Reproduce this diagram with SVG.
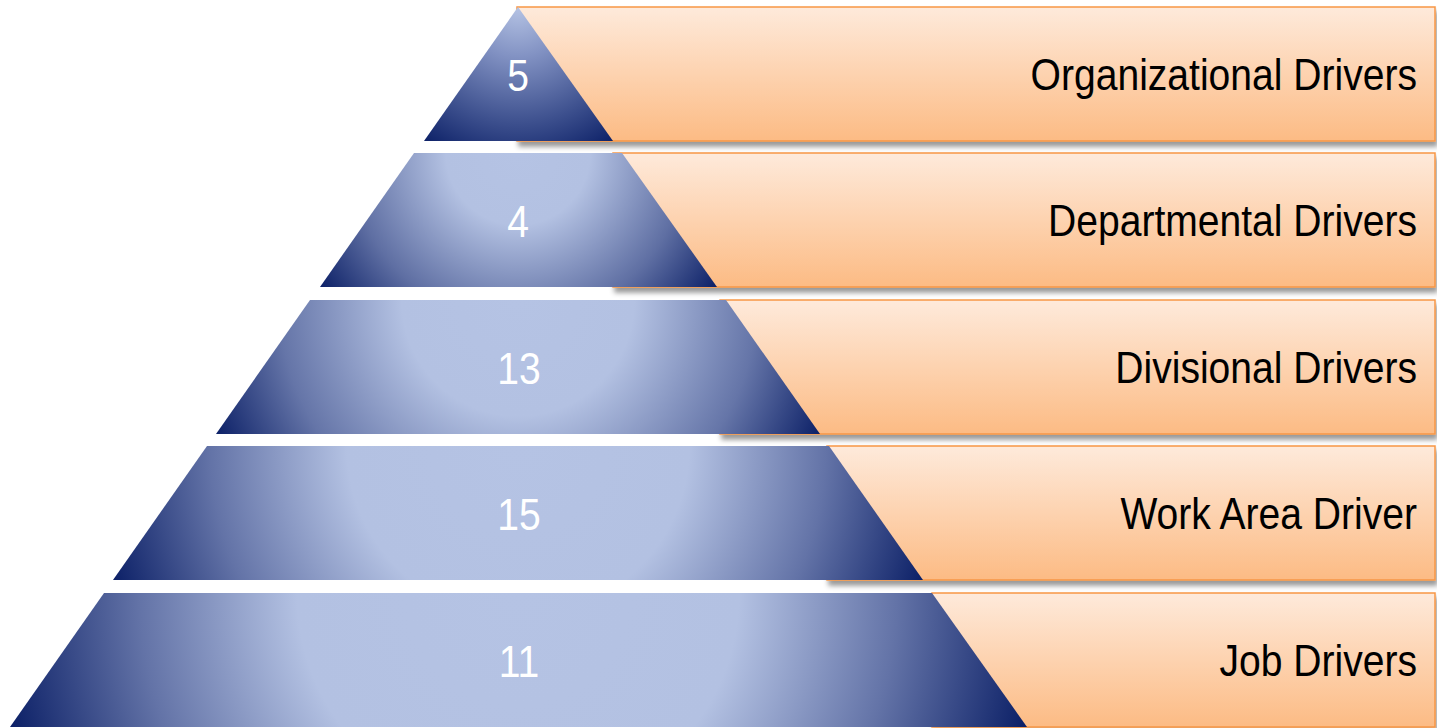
<svg xmlns="http://www.w3.org/2000/svg" width="1437" height="728" viewBox="0 0 1437 728">
<style>
.bar{fill:url(#orange);stroke:#f79646;stroke-width:1.5;filter:url(#shadow)}
.lbl{font-family:"Liberation Sans",Arial,sans-serif;font-size:44px;fill:#000;text-anchor:end}
.num{font-family:"Liberation Sans",Arial,sans-serif;font-size:44px;fill:#fff;text-anchor:middle}
</style>
<defs>
<linearGradient id="orange" x1="0" y1="0" x2="0" y2="1">
<stop offset="0" stop-color="#feeadb"/>
<stop offset="1" stop-color="#fcbb84"/>
</linearGradient>
<filter id="shadow" x="-5%" y="-20%" width="110%" height="150%">
<feDropShadow dx="2" dy="5" stdDeviation="2.5" flood-color="#000" flood-opacity="0.4"/>
</filter>
<radialGradient id="g1" gradientUnits="userSpaceOnUse" cx="518" cy="7" r="166">
<stop offset="0" stop-color="#b5c3e4"/><stop offset="0.3" stop-color="#8292c3"/><stop offset="0.7" stop-color="#3d508e"/><stop offset="1" stop-color="#0b1f66"/>
</radialGradient>
<radialGradient id="g2" gradientUnits="userSpaceOnUse" cx="518" cy="153" r="240">
<stop offset="0" stop-color="#b5c3e4"/><stop offset="0.3" stop-color="#b3c1e2"/><stop offset="0.7" stop-color="#5f6fa3"/><stop offset="1" stop-color="#0b1f66"/>
</radialGradient>
<radialGradient id="g3" gradientUnits="userSpaceOnUse" cx="518" cy="300" r="332">
<stop offset="0" stop-color="#b5c3e4"/><stop offset="0.35" stop-color="#b3c1e2"/><stop offset="0.72" stop-color="#6575a8"/><stop offset="1" stop-color="#0b1f66"/>
</radialGradient>
<radialGradient id="g4" gradientUnits="userSpaceOnUse" cx="518" cy="446" r="428">
<stop offset="0" stop-color="#b5c3e4"/><stop offset="0.4" stop-color="#b3c1e2"/><stop offset="0.72" stop-color="#6373a7"/><stop offset="1" stop-color="#0b1f66"/>
</radialGradient>
<radialGradient id="g5" gradientUnits="userSpaceOnUse" cx="518" cy="593" r="526">
<stop offset="0" stop-color="#b5c3e4"/><stop offset="0.42" stop-color="#b3c1e2"/><stop offset="0.72" stop-color="#6373a7"/><stop offset="1" stop-color="#0b1f66"/>
</radialGradient>
</defs>
<g id="connectors"/>
<g id="layer1">
<rect class="bar" x="517" y="7" width="918" height="134"/>
<polygon points="518,7 613,141 424,141" fill="url(#g1)"/>
<text class="num" transform="translate(518,91) scale(0.888,1)">5</text>
<text class="lbl" transform="translate(1417,90) scale(0.888,1)">Organizational Drivers</text>
</g>
<g id="layer2">
<rect class="bar" x="613" y="153" width="822" height="134"/>
<polygon points="414,153 622,153 717,287 320,287" fill="url(#g2)"/>
<text class="num" transform="translate(518,237) scale(0.888,1)">4</text>
<text class="lbl" transform="translate(1417,236) scale(0.888,1)">Departmental Drivers</text>
</g>
<g id="layer3">
<rect class="bar" x="720" y="300" width="715" height="134"/>
<polygon points="310,300 726,300 820,434 216,434" fill="url(#g3)"/>
<text class="num" transform="translate(519,384) scale(0.888,1)">13</text>
<text class="lbl" transform="translate(1417,383) scale(0.888,1)">Divisional Drivers</text>
</g>
<g id="layer4">
<rect class="bar" x="827" y="446" width="608" height="134"/>
<polygon points="207,446 829,446 923,580 113,580" fill="url(#g4)"/>
<text class="num" transform="translate(519,530) scale(0.888,1)">15</text>
<text class="lbl" transform="translate(1417,529) scale(0.888,1)">Work Area Driver</text>
</g>
<g id="layer5">
<rect class="bar" x="932" y="593" width="503" height="134"/>
<polygon points="104,593 932,593 1027,727 10,727" fill="url(#g5)"/>
<text class="num" transform="translate(519,677) scale(0.888,1)">11</text>
<text class="lbl" transform="translate(1417,676) scale(0.888,1)">Job Drivers</text>
</g>
</svg>
